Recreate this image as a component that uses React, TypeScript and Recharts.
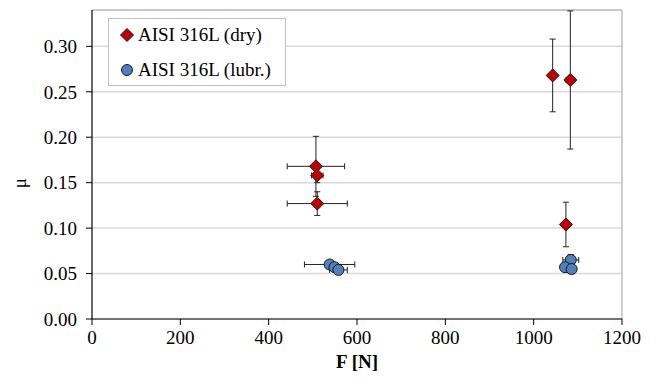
import React from 'react';
import { ScatterChart, Scatter, XAxis, YAxis, CartesianGrid, ErrorBar, Legend, ReferenceLine } from 'recharts';

const dryF = [507, 510, 510, 1043, 1083, 1073];
const dryMu = [0.168, 0.158, 0.127, 0.268, 0.263, 0.104];
const dryFErr = [65, 13, 68, 0, 10, 6];
const dryMuErr = [0.033, 0.008, 0.013, 0.040, 0.076, 0.0245];

const lubF = [538, 549, 558, 1084, 1071, 1086];
const lubMu = [0.060, 0.057, 0.054, 0.065, 0.057, 0.055];
const lubFErr = [57, 12, 20, 18, 5, 5];
const lubMuErr = [0.004, 0.003, 0.003, 0.006, 0.003, 0.003];

const xTicks = [0, 200, 400, 600, 800, 1000, 1200];
const yTicks = [0, 0.05, 0.1, 0.15, 0.2, 0.25, 0.3];
const seriesNames = ['AISI 316L (dry)', 'AISI 316L (lubr.)'];

const dryData = dryF.map((f, i) => ({ f, mu: dryMu[i], fErr: dryFErr[i], muErr: dryMuErr[i] }));
const lubData = lubF.map((f, i) => ({ f, mu: lubMu[i], fErr: lubFErr[i], muErr: lubMuErr[i] }));

const FONT = 'Liberation Serif';
const RED = '#C00000';
const BLUE = '#4F81BD';

const Diamond = (props: any) => {
  const { cx, cy } = props;
  const s = 6.5;
  return <polygon points={`${cx},${cy - s} ${cx + s},${cy} ${cx},${cy + s} ${cx - s},${cy}`} fill={RED} stroke="#1a1a1a" strokeWidth={1} />;
};

const Circle = (props: any) => {
  const { cx, cy } = props;
  return <circle cx={cx} cy={cy} r={5.5} fill={BLUE} stroke="#1a1a1a" strokeWidth={1} />;
};

const LegendBox = () => (
  <div style={{ width: 176, height: 66, border: '1px solid #bfbfbf', background: '#fff', position: 'relative', fontFamily: FONT, fontSize: 19, color: '#000' }}>
    {seriesNames.map((name, i) => (
      <div key={name} style={{ position: 'absolute', left: 10, top: i === 0 ? 4 : 39, height: 24, display: 'flex', alignItems: 'center', whiteSpace: 'nowrap' }}>
        <svg width={16} height={16} style={{ marginRight: 3 }}>
          {i === 0 ? (
            <polygon points="8,1.5 14.5,8 8,14.5 1.5,8" fill={RED} stroke="#1a1a1a" strokeWidth={1} />
          ) : (
            <circle cx={8} cy={8} r={5.5} fill={BLUE} stroke="#1a1a1a" strokeWidth={1} />
          )}
        </svg>
        <span>{name}</span>
      </div>
    ))}
  </div>
);

export default function App() {
  return (
    <div style={{ position: 'absolute', left: 0, top: 0, width: 656, height: 381, background: '#fff', fontFamily: FONT }}>
      <ScatterChart width={656} height={381} margin={{ top: 10, right: 34, left: 0, bottom: 0 }} style={{ fontFamily: FONT }}>
        <CartesianGrid horizontal vertical={false} stroke="#d9d9d9" strokeWidth={1.5} />
        <ReferenceLine y={0.34} stroke="#bfbfbf" strokeWidth={1.5} />
        <ReferenceLine x={1200} stroke="#bfbfbf" strokeWidth={1.5} />
        <XAxis
          type="number"
          dataKey="f"
          domain={[0, 1200]}
          ticks={xTicks}
          allowDataOverflow
          height={62}
          tickSize={6}
          tickMargin={6}
          tick={{ fontFamily: FONT, fontSize: 19, fill: '#000' }}
          axisLine={{ stroke: '#000', strokeWidth: 1.2 }}
          tickLine={{ stroke: '#000', strokeWidth: 1 }}
          label={(p: any) => {
            const vb = p.viewBox;
            return (
              <text x={vb.x + vb.width / 2} y={vb.y + 45} textAnchor="middle" dominantBaseline="middle" fontFamily={FONT} fontSize={19} fontWeight="bold" fill="#000">F [N]</text>
            );
          }}
        />
        <YAxis
          type="number"
          dataKey="mu"
          domain={[0, 0.34]}
          ticks={yTicks}
          allowDataOverflow
          width={92}
          tickSize={6}
          tickMargin={9}
          tickFormatter={(v: number) => v.toFixed(2)}
          tick={{ fontFamily: FONT, fontSize: 19, fill: '#000' }}
          axisLine={{ stroke: '#000', strokeWidth: 1.2 }}
          tickLine={{ stroke: '#000', strokeWidth: 1 }}
          label={(p: any) => {
            const vb = p.viewBox;
            const x = 22;
            const y = vb.y + vb.height * 0.56;
            return (
              <text x={x} y={y} transform={`rotate(-90 ${x} ${y})`} textAnchor="middle" dominantBaseline="middle" fontFamily={FONT} fontSize={19} fill="#000">μ</text>
            );
          }}
        />
        <Legend
          layout="vertical"
          align="center"
          verticalAlign="middle"
          wrapperStyle={{ left: 108, top: 18, width: 178, height: 68 }}
          content={() => <LegendBox />}
        />
        <Scatter name={seriesNames[0]} data={dryData} shape={<Diamond />} isAnimationActive={false}>
          <ErrorBar dataKey="fErr" direction="x" width={3} stroke="#222" strokeWidth={1} />
          <ErrorBar dataKey="muErr" direction="y" width={3} stroke="#222" strokeWidth={1} />
        </Scatter>
        <Scatter name={seriesNames[1]} data={lubData} shape={<Circle />} isAnimationActive={false}>
          <ErrorBar dataKey="fErr" direction="x" width={3} stroke="#222" strokeWidth={1} />
          <ErrorBar dataKey="muErr" direction="y" width={3} stroke="#222" strokeWidth={1} />
        </Scatter>
      </ScatterChart>
    </div>
  );
}
